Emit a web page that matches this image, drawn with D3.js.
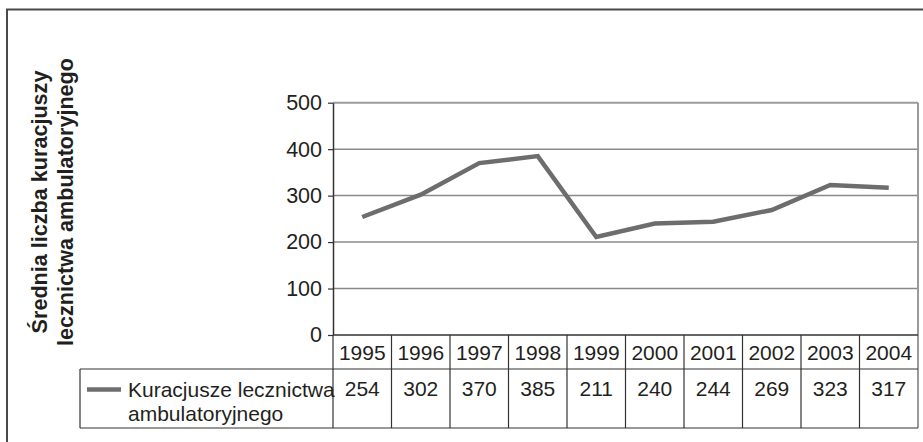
<!DOCTYPE html>
<html>
<head>
  <meta charset="UTF-8">
  <style>
    body {
      margin: 0;
      padding: 0;
      background-color: #ffffff;
      font-family: Arial, "Liberation Sans", sans-serif;
    }
    svg {
      display: block;
    }
    text {
      fill: #231f20;
    }
  </style>
</head>
<body>
  <svg></svg>
  <script src="https://d3js.org/d3.v7.min.js"></script>

  <script>
  // data
  const years = ["1995", "1996", "1997", "1998", "1999", "2000", "2001", "2002", "2003", "2004"];
  const values = [254, 302, 370, 385, 211, 240, 244, 269, 323, 317];
  const yTicks = [0, 100, 200, 300, 400, 500];
  const seriesLabel = ["Kuracjusze lecznictwa", "ambulatoryjnego"];
  const yTitle = ["Średnia liczba kuracjuszy", "lecznictwa ambulatoryjnego"];

  let width = 923, height = 442;

  let svg = d3.select("svg")
      .attr("width", width)
      .attr("height", height);

  // outer frame (runs off the right and bottom edges)
  svg.append("rect")
      .attr("x", 7)
      .attr("y", 9.5)
      .attr("width", 940)
      .attr("height", 460)
      .attr("fill", "none")
      .attr("stroke", "#4a4a4a")
      .attr("stroke-width", 2);

  const plotLeft = 333, plotRight = 918, plotTop = 102.7, plotBottom = 335;

  let x = d3.scaleBand()
      .domain(years)
      .range([plotLeft, plotRight]);

  let y = d3.scaleLinear()
      .domain([0, 500])
      .range([plotBottom, plotTop]);

  // gridlines
  svg.append("g")
      .selectAll("line")
      .data(yTicks.filter(d => d > 0))
      .enter()
      .append("line")
      .attr("x1", plotLeft)
      .attr("x2", plotRight)
      .attr("y1", d => y(d))
      .attr("y2", d => y(d))
      .attr("stroke", d => d === 500 ? "#9a9a9a" : "#8a8a8a")
      .attr("stroke-width", d => d === 500 ? 2 : 1.5);

  // right edge of plot + table
  svg.append("line")
      .attr("x1", plotRight)
      .attr("x2", plotRight)
      .attr("y1", plotTop)
      .attr("y2", 428)
      .attr("stroke", "#9a9a9a")
      .attr("stroke-width", 2);

  // y axis
  let yAxis = d3.axisLeft(y)
      .tickValues(yTicks)
      .tickSize(5)
      .tickPadding(6)
      .tickSizeOuter(0);

  let yg = svg.append("g")
      .attr("transform", `translate(${plotLeft},0)`)
      .call(yAxis);
  yg.select(".domain").attr("stroke", "#333").attr("stroke-width", 1.5);
  yg.selectAll(".tick line").attr("stroke", "#333").attr("stroke-width", 1.2);
  yg.selectAll(".tick text")
      .attr("font-size", "21.5px")
      .attr("font-family", "Arial, 'Liberation Sans', sans-serif")
      .attr("fill", "#231f20");

  // y title
  let yt = svg.append("text")
      .attr("transform", "translate(47,202) rotate(-90)")
      .attr("text-anchor", "middle")
      .attr("font-size", "21.6px")
      .attr("font-weight", "bold");
  yTitle.forEach((t, i) => {
      yt.append("tspan")
          .attr("x", 0)
          .attr("dy", i === 0 ? 0 : 26)
          .text(t);
  });

  // data table
  const table = svg.append("g");
  const rowTop = plotBottom, rowMid = 369, rowBottom = 428, legendLeft = 80;

  // horizontal rules
  table.append("line")
      .attr("x1", plotLeft).attr("x2", plotRight)
      .attr("y1", rowTop).attr("y2", rowTop)
      .attr("stroke", "#333").attr("stroke-width", 1.5);
  table.append("line")
      .attr("x1", legendLeft).attr("x2", plotRight)
      .attr("y1", rowMid).attr("y2", rowMid)
      .attr("stroke", "#333").attr("stroke-width", 1.2);
  table.append("line")
      .attr("x1", legendLeft).attr("x2", plotRight)
      .attr("y1", rowBottom).attr("y2", rowBottom)
      .attr("stroke", "#333").attr("stroke-width", 1.2);
  table.append("line")
      .attr("x1", legendLeft).attr("x2", legendLeft)
      .attr("y1", rowMid).attr("y2", rowBottom)
      .attr("stroke", "#333").attr("stroke-width", 1.2);

  // column separators
  table.selectAll(".sep")
      .data(years)
      .enter()
      .append("line")
      .attr("class", "sep")
      .attr("x1", d => x(d))
      .attr("x2", d => x(d))
      .attr("y1", rowTop)
      .attr("y2", rowBottom)
      .attr("stroke", "#333")
      .attr("stroke-width", 1.2);

  table.selectAll(".year")
      .data(years)
      .enter()
      .append("text")
      .attr("class", "year")
      .attr("x", d => x(d) + x.bandwidth() / 2)
      .attr("y", 359.5)
      .attr("text-anchor", "middle")
      .attr("font-size", "21px")
      .text(d => d);

  table.selectAll(".val")
      .data(values)
      .enter()
      .append("text")
      .attr("class", "val")
      .attr("x", (d, i) => x(years[i]) + x.bandwidth() / 2)
      .attr("y", 396)
      .attr("text-anchor", "middle")
      .attr("font-size", "21px")
      .text(d => d);

  // legend key in table
  table.append("line")
      .attr("x1", 87).attr("x2", 121)
      .attr("y1", 389.5).attr("y2", 389.5)
      .attr("stroke", "#6d6d6d")
      .attr("stroke-width", 4.5);

  let lt = table.append("text")
      .attr("x", 128)
      .attr("y", 396.5)
      .attr("font-size", "21px");
  seriesLabel.forEach((t, i) => {
      lt.append("tspan")
          .attr("x", 128)
          .attr("dy", i === 0 ? 0 : 24.5)
          .text(t);
  });

  // series line
  let line = d3.line()
      .x((d, i) => x(years[i]) + x.bandwidth() / 2)
      .y(d => y(d));

  svg.append("path")
      .datum(values)
      .attr("d", line)
      .attr("fill", "none")
      .attr("stroke", "#6d6d6d")
      .attr("stroke-width", 4.5)
      .attr("stroke-linejoin", "miter");
  </script>

</body>
</html>
